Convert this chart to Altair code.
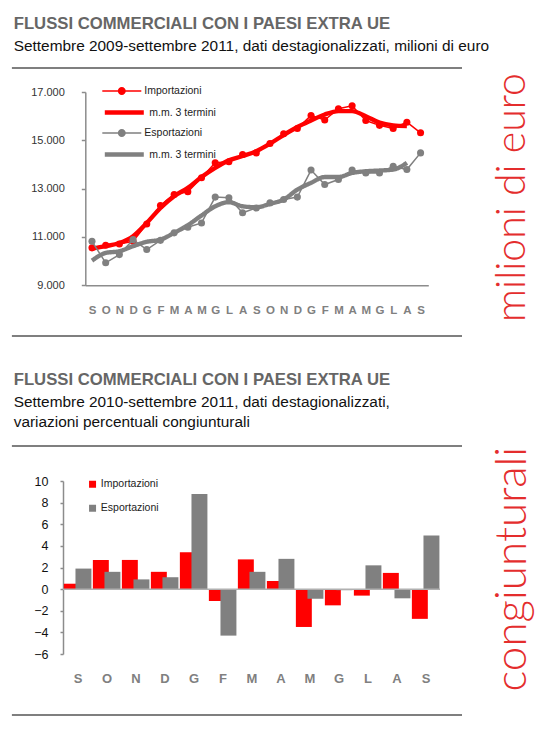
import altair as alt
import pandas as pd

# ---------------- data ----------------
months_top = ["S", "O", "N", "D", "G", "F", "M", "A", "M", "G", "L", "A", "S",
              "O", "N", "D", "G", "F", "M", "A", "M", "G", "L", "A", "S"]
imports = [10550, 10660, 10710, 10820, 11540, 12300, 12760, 12870, 13450, 14070,
           14110, 14410, 14480, 14870, 15270, 15490, 16030, 15840, 16310, 16430,
           15820, 15620, 15490, 15750, 15310]
exports = [10820, 9930, 10270, 10890, 10480, 10860, 11170, 11400, 11580, 12650,
           12620, 12000, 12200, 12410, 12550, 12650, 13770, 13170, 13380, 13770,
           13650, 13650, 13930, 13790, 14480]
imports_mm3 = [10520, 10620, 10750, 11030, 11580, 12200, 12690, 13030, 13480, 13860,
               14170, 14350, 14550, 14860, 15220, 15550, 15820, 16070, 16210, 16210,
               16000, 15730, 15620, 15590]
exports_mm3 = [10020, 10340, 10410, 10620, 10800, 10890, 11170, 11490, 11890, 12270,
               12440, 12270, 12230, 12370, 12550, 12960, 13240, 13480, 13480, 13650,
               13720, 13750, 13790, 14070]

months_bar = ["S", "O", "N", "D", "G", "F", "M", "A", "M", "G", "L", "A", "S"]
imp_var = [0.5, 2.7, 2.7, 1.6, 3.4, -1.1, 2.75, 0.75, -3.5, -1.5, -0.6, 1.5, -2.75]
exp_var = [1.9, 1.6, 0.9, 1.1, 8.8, -4.3, 1.6, 2.8, -0.9, -0.1, 2.2, -0.85, 4.95]

top_ticks = [9000, 11000, 13000, 15000, 17000]
bar_ticks = [-6, -4, -2, 0, 2, 4, 6, 8, 10]

title_main = "FLUSSI COMMERCIALI CON I PAESI EXTRA UE"
subtitle_top = "Settembre 2009-settembre 2011, dati destagionalizzati, milioni di euro"
subtitle_bot_1 = "Settembre 2010-settembre 2011, dati destagionalizzati,"
subtitle_bot_2 = "variazioni percentuali congiunturali"
side_top = "milioni di euro"
side_bot = "congiunturali"
lab_imp = "Importazioni"
lab_exp = "Esportazioni"
lab_mm = "m.m. 3 termini"

# ---------------- style ----------------
ARIAL = "Liberation Sans, Arial, sans-serif"
THIN = "Lato"
RED = "#ff0000"
GRAY = "#808080"
SIDE_RED = "#e42d2d"
AXIS_GRAY = "#8c8c8c"
TITLE_SIZE = 16.7
SUB_SIZE = 15.4

one = pd.DataFrame({"k": [0]})


def text(txt, x, y, size, font=ARIAL, weight="normal", color="#111111", angle=0,
         align="left", baseline="alphabetic"):
    return alt.Chart(one).mark_text(
        font=font, fontSize=size, fontWeight=weight, color=color, angle=angle,
        align=align, baseline=baseline
    ).encode(x=alt.value(x), y=alt.value(y), text=alt.value(txt))


def hrule(x1, x2, y, color="#000000", width=1.2):
    return alt.Chart(one).mark_rule(color=color, strokeWidth=width).encode(
        x=alt.value(x1), x2=alt.value(x2), y=alt.value(y))


# Both panels share the same plot origin (x = 61.7 on the page); the top panel's
# axes start 22.3 px further right.
SHIFT = 22.3

# ---------------- top chart ----------------
TW, TH = 365.3, 193.3
top_df = pd.DataFrame({"i": list(range(25)), "imp": imports, "exp": exports})
mm_df = pd.DataFrame({"i": list(range(24)), "imp_mm": imports_mm3, "exp_mm": exports_mm3})

x_top_expr = "[" + ",".join("'%s'" % m for m in months_top) + "][datum.value]"
x_top_axis = alt.Axis(values=list(range(25)), labelExpr=x_top_expr, ticks=False,
                      domainColor=AXIS_GRAY, domainWidth=1.5, labelPadding=19,
                      labelFont=ARIAL, labelFontWeight="bold", labelFontSize=11.5,
                      labelColor=GRAY, labelOverlap=False, labelFlush=False,
                      grid=False, title=None)
x_top_scale = alt.Scale(domain=[-0.489, 24.565], range=[SHIFT, TW], nice=False, zero=False)
y_top_axis = alt.Axis(values=top_ticks,
                      labelExpr="replace(format(datum.value, ','), ',', '.')",
                      offset=-SHIFT,
                      domainColor=AXIS_GRAY, domainWidth=1.5, tickColor=AXIS_GRAY,
                      tickWidth=1.5, tickSize=4, labelPadding=17, labelFont=ARIAL,
                      labelFontSize=11, labelColor="#333333", labelOverlap=False,
                      grid=False, title=None)
y_top_scale = alt.Scale(domain=[9000, 17000], nice=False, zero=False)

XT = alt.X("i:Q", scale=x_top_scale, axis=x_top_axis)


def YT(field):
    return alt.Y(field + ":Q", scale=y_top_scale, axis=y_top_axis)


SYM = 1521  # symbol box 39px
dot_path = ("M-1,-0.04L1,-0.04L1,0.04L-1,0.04Z "
            "M0.205,0A0.205,0.205 0 1,1 -0.205,0A0.205,0.205 0 1,1 0.205,0Z")
line_path = "M-1,0L1,0"
LEG_X = 17 + SHIFT


def leg(y, path, stroke, fill, sw, label=None):
    kw = dict(title=None, orient="none", legendX=LEG_X, legendY=y, padding=0,
              symbolType=path, symbolSize=SYM, symbolStrokeColor=stroke,
              symbolFillColor=fill, symbolStrokeWidth=sw, labelOffset=3,
              labelFont=ARIAL, labelFontSize=10.5, labelColor="#222222", labelLimit=200)
    if label is not None:
        kw["labelExpr"] = "'%s'" % label
    return alt.Legend(**kw)


red_mm = alt.Chart(mm_df).transform_calculate(l2="'mm_imp'").mark_line(
    color=RED, interpolate="monotone").encode(
    x=XT, y=YT("imp_mm"),
    strokeWidth=alt.StrokeWidth("l2:N", scale=alt.Scale(type="ordinal", domain=["mm_imp"], range=[4.4]),
                                legend=leg(-1.5, line_path, RED, "transparent", 4.4, lab_mm)))
red_line = alt.Chart(top_df).mark_line(color=RED, strokeWidth=1.5).encode(x=XT, y=YT("imp"))
red_pts = alt.Chart(top_df).transform_calculate(l1="'%s'" % lab_imp).mark_circle(
    size=50, opacity=1).encode(
    x=XT, y=YT("imp"),
    color=alt.Color("l1:N", scale=alt.Scale(domain=[lab_imp], range=[RED]),
                    legend=leg(-20.5, dot_path, RED, RED, 0)))
gray_mm = alt.Chart(mm_df).transform_calculate(l4="'mm_exp'").mark_line(
    color=GRAY, strokeWidth=4.4, interpolate="monotone").encode(
    x=XT, y=YT("exp_mm"),
    strokeDash=alt.StrokeDash("l4:N", scale=alt.Scale(domain=["mm_exp"], range=[[1, 0]]),
                              legend=leg(40.5, line_path, GRAY, "transparent", 4.4, lab_mm)))
gray_line = alt.Chart(top_df).mark_line(color=GRAY, strokeWidth=1.5).encode(x=XT, y=YT("exp"))
gray_pts = alt.Chart(top_df).transform_calculate(l3="'%s'" % lab_exp).mark_circle(
    size=50, color=GRAY).encode(
    x=XT, y=YT("exp"),
    opacity=alt.Opacity("l3:N", scale=alt.Scale(type="ordinal", domain=[lab_exp], range=[1]),
                        legend=leg(21.5, dot_path, GRAY, GRAY, 0)))

top = alt.layer(
    hrule(-51.1, 0, -83, color="#ffffff"),
    text(title_main, -49.3, -63.3, TITLE_SIZE, weight="bold", color="#666666"),
    text(subtitle_top, -49.3, -41, SUB_SIZE, color="#111111"),
    hrule(-51.1, 399, -24),
    hrule(-51.1, 399, 244),
    text(side_top, 461.5, 105.5, 41, font=THIN, weight=300, color=SIDE_RED, angle=270,
         align="center"),
    red_mm, red_line, red_pts, gray_mm, gray_line, gray_pts,
).properties(width=TW, height=TH)

# ---------------- bottom chart ----------------
BW, BH = 377, 173
bar_df = pd.DataFrame({
    "i": list(range(13)) * 2,
    "s": [lab_imp] * 13 + [lab_exp] * 13,
    "v": imp_var + exp_var,
})
x_bot_expr = "[" + ",".join("'%s'" % m for m in months_bar) + "][floor(datum.value)]"
x_bot_axis = alt.Axis(values=[i + 0.5 for i in range(13)], labelExpr=x_bot_expr,
                      ticks=False, domain=False, labelPadding=18, labelFont=ARIAL,
                      labelFontWeight="bold", labelFontSize=13, labelColor=GRAY,
                      labelOverlap=False, labelFlush=False, grid=False, title=None)
x_bot_scale = alt.Scale(domain=[0, 13], nice=False, zero=False)
y_bot_axis = alt.Axis(values=bar_ticks, format="d", domainColor=AXIS_GRAY, domainWidth=1.5,
                      tickColor=AXIS_GRAY, tickWidth=1.5, tickSize=3, labelPadding=12,
                      labelFont=ARIAL, labelFontSize=12.5, labelColor="#111111",
                      labelOverlap=False, grid=False, title=None)
y_bot_scale = alt.Scale(domain=[-6, 10], nice=False, padding=0)

bars = alt.Chart(bar_df).transform_calculate(
    x0="datum.i + (datum.s == '%s' ? 0.03 : 0.43)" % lab_imp,
    x1="datum.x0 + 0.55",
).mark_bar().encode(
    x=alt.X("x0:Q", scale=x_bot_scale, axis=x_bot_axis),
    x2="x1:Q",
    y=alt.Y("v:Q", scale=y_bot_scale, axis=y_bot_axis, stack=None),
    y2=alt.datum(0),
    color=alt.Color("s:N", scale=alt.Scale(domain=[lab_imp, lab_exp], range=[RED, GRAY]),
                    legend=alt.Legend(title=None, orient="none", legendX=24.3, legendY=-2,
                                      padding=0, symbolType="square", symbolSize=49,
                                      symbolStrokeWidth=0, labelOffset=3, rowPadding=13,
                                      labelFont=ARIAL, labelFontSize=10.5,
                                      labelColor="#222222")),
)
zero = alt.Chart(one).mark_rule(color="#b0b0b0", strokeWidth=1.5).encode(
    y=alt.datum(0, scale=y_bot_scale, axis=y_bot_axis), x=alt.value(0), x2=alt.value(BW))

bottom = alt.layer(
    # invisible guide that fixes the panel's top edge (separator is drawn by the top panel)
    hrule(-51.1, 0, -142.5, color="#ffffff"),
    text(title_main, -49.3, -96, TITLE_SIZE, weight="bold", color="#666666"),
    text(subtitle_bot_1, -49.3, -73.8, SUB_SIZE, color="#111111"),
    text(subtitle_bot_2, -49.3, -53.8, SUB_SIZE, color="#111111"),
    hrule(-51.1, 399, -35),
    hrule(-51.1, 399, 234),
    text(side_bot, 462.5, 88.2, 44, font=THIN, weight=300, color=SIDE_RED, angle=270,
         align="center"),
    bars, zero,
).properties(width=BW, height=BH)

chart = alt.vconcat(top, bottom, spacing=0).resolve_scale(
    color="independent", opacity="independent", strokeWidth="independent",
    strokeDash="independent"
).resolve_legend(
    color="independent", opacity="independent", strokeWidth="independent",
    strokeDash="independent"
).properties(
    padding={"left": 3, "top": 0, "right": 0, "bottom": 0}
).configure_view(stroke=None)

chart.save("out.html", embed_options={"renderer": "svg", "actions": False})
